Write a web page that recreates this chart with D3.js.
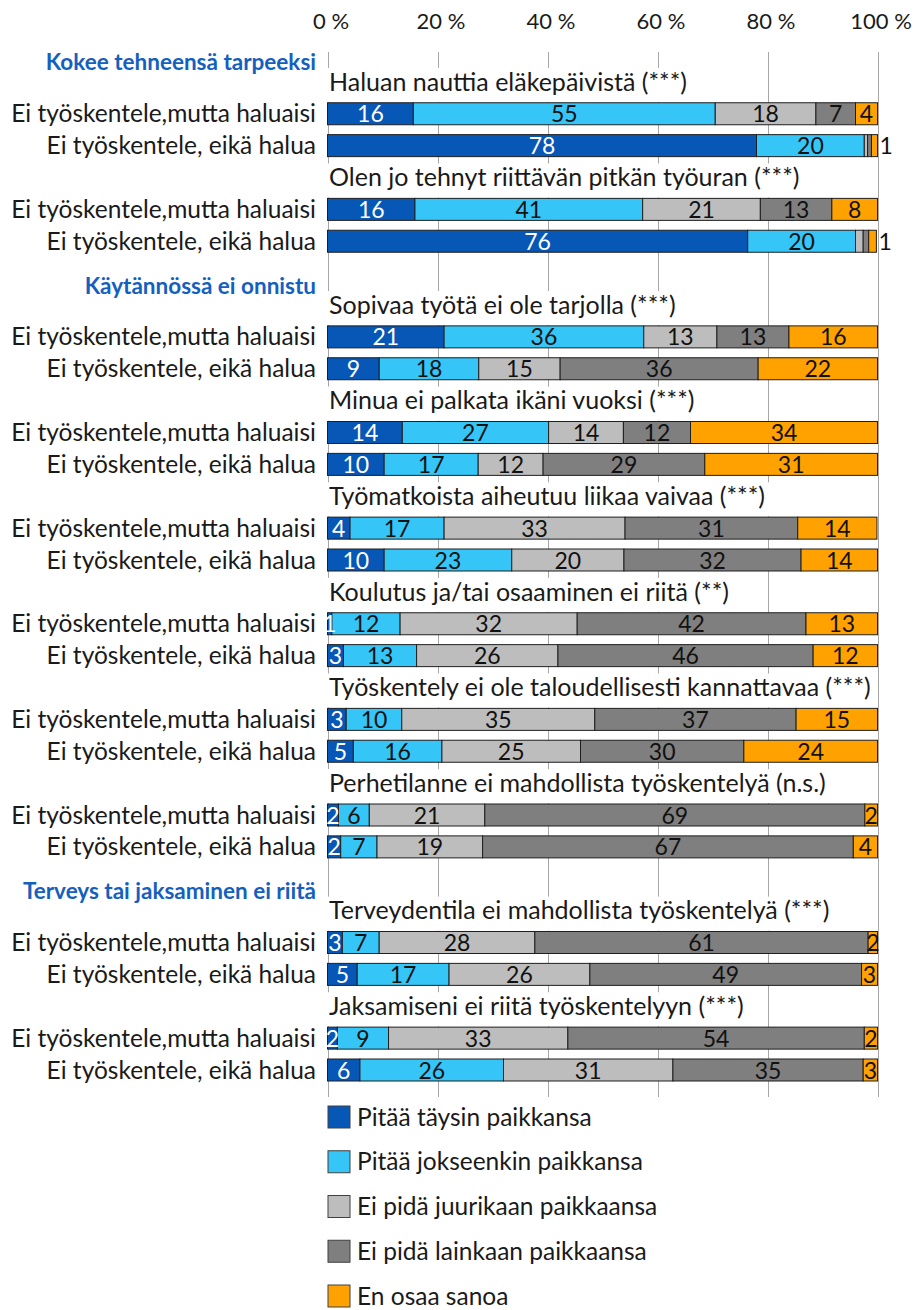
<!DOCTYPE html>
<html>
<head>
<meta charset="utf-8">
<script src="https://cdn.jsdelivr.net/npm/d3@7"></script>
<style>
  body { margin: 0; background: #ffffff; }
  text { font-family: Lato, "Open Sans", sans-serif; }
</style>
</head>
<body>
<script>
// ---------------- DATA ----------------
const sectionTitles = ["Kokee tehneensä tarpeeksi", "Käytännössä ei onnistu", "Terveys tai jaksaminen ei riitä"];
const groupTitles = [
  "Haluan nauttia eläkepäivistä (***)",
  "Olen jo tehnyt riittävän pitkän työuran (***)",
  "Sopivaa työtä ei ole tarjolla (***)",
  "Minua ei palkata ikäni vuoksi (***)",
  "Työmatkoista aiheutuu liikaa vaivaa (***)",
  "Koulutus ja/tai osaaminen ei riitä (**)",
  "Työskentely ei ole taloudellisesti kannattavaa (***)",
  "Perhetilanne ei mahdollista työskentelyä (n.s.)",
  "Terveydentila ei mahdollista työskentelyä (***)",
  "Jaksamiseni ei riitä työskentelyyn (***)"
];
const groupSection = [0, 0, 1, 1, 1, 1, 1, 1, 2, 2];
const rowLabels = ["Ei työskentele,mutta haluaisi", "Ei työskentele, eikä halua"];
const seriesNames = ["Pitää täysin paikkansa", "Pitää jokseenkin paikkansa", "Ei pidä juurikaan paikkaansa", "Ei pidä lainkaan paikkaansa", "En osaa sanoa"];
const tickValues = [0, 20, 40, 60, 80, 100];

// values per series, rows in order: group1 row1, group1 row2, group2 row1, ...
const taysin     = [15.6, 78.0, 15.9, 76.4, 21.2,  9.4, 13.6, 10.3,  4.1, 10.3,  0.8,  2.9,  3.4,  4.7,  2.0,  2.4,  2.7,  5.4,  1.8,  5.9];
const jokseenkin = [54.9, 19.6, 41.4, 19.6, 36.3, 18.1, 26.6, 17.1, 17.1, 23.2, 12.4, 13.3, 10.1, 16.1,  5.6,  6.6,  6.7, 16.7,  9.3, 26.1];
const juurikaan  = [18.3,  0.6, 21.4,  1.4, 13.3, 14.8, 13.6, 11.8, 32.9, 20.4, 32.2, 25.7, 35.1, 25.2, 21.0, 19.2, 28.3, 25.6, 32.6, 30.8];
const lainkaan   = [ 7.2,  0.7, 13.0,  1.0, 13.1, 36.0, 12.2, 29.4, 31.4, 32.2, 41.6, 46.4, 36.6, 29.7, 69.1, 67.4, 60.6, 49.4, 53.9, 34.6];
const eos        = [ 4.0,  1.1,  8.3,  1.4, 16.1, 21.7, 34.0, 31.4, 14.4, 13.9, 13.0, 11.7, 14.8, 24.3,  2.3,  4.4,  1.7,  2.9,  2.4,  2.6];
// data labels that are not shown in the original (row index, series index)
const hiddenLabels = [[1, 2], [1, 3], [3, 2], [3, 3]];

const seriesValues = [taysin, jokseenkin, juurikaan, lainkaan, eos];
const colors = ["#0757B7", "#35C5F6", "#BDBDBD", "#7F7F7F", "#FFA200"];
const labelColors = ["#ffffff", "#111111", "#111111", "#111111", "#111111"];

// ---------------- LAYOUT ----------------
const W = 920, H = 1310;
const svg = d3.select("body").append("svg").attr("width", W).attr("height", H);

// build slot list
const slots = [];
let prevSection = -1;
groupTitles.forEach((t, g) => {
  if (groupSection[g] !== prevSection) {
    slots.push({type: "section", text: sectionTitles[groupSection[g]]});
    prevSection = groupSection[g];
  }
  slots.push({type: "title", text: t});
  rowLabels.forEach((rl, r) => slots.push({type: "bar", text: rl, row: g * 2 + r}));
});

const x = d3.scaleLinear().domain([0, 100]).range([327.5, 877.5]);
const y = d3.scalePoint().domain(d3.range(slots.length)).range([50, 1070]);
const barH = 22;
const gridTop = 52, gridBottom = 1097;

// gridlines
svg.append("g").selectAll("line").data(tickValues).join("line")
  .attr("x1", d => Math.round(x(d)) + 0.5).attr("x2", d => Math.round(x(d)) + 0.5)
  .attr("y1", gridTop).attr("y2", gridBottom)
  .attr("stroke", "#A6A6A6").attr("stroke-width", 1);

// top axis labels
const axis = d3.axisTop(x).tickValues(tickValues).tickFormat(d => d + " %").tickSize(0).tickPadding(0);
const axG = svg.append("g").attr("transform", "translate(3,29)").call(axis);
axG.select(".domain").remove();
axG.selectAll("text").attr("font-family", "Lato, sans-serif").attr("font-size", 22).attr("fill", "#1a1a1a");

// section labels
slots.forEach((s, i) => {
  if (s.type === "section") {
    svg.append("text").attr("x", 316).attr("y", y(i) + 12.5)
      .attr("dy", "0.35em").attr("text-anchor", "end")
      .attr("font-size", 22.5).attr("font-weight", 700).attr("fill", "#1460BE")
      .text(s.text);
  }
});

// group titles with white background
slots.forEach((s, i) => {
  if (s.type === "title") {
    const g = svg.append("g");
    const bg = g.append("rect").attr("fill", "#ffffff");
    const t = g.append("text").attr("x", 329).attr("y", y(i))
      .attr("dy", "0.35em").attr("font-size", 25).attr("fill", "#1a1a1a").text(s.text);
    const len = t.node().getComputedTextLength();
    bg.attr("x", 326).attr("y", y(i) - 14).attr("width", len + 8).attr("height", 34);
  }
});

// row labels
slots.forEach((s, i) => {
  if (s.type === "bar") {
    svg.append("text").attr("x", 316).attr("y", y(i))
      .attr("dy", "0.35em").attr("text-anchor", "end")
      .attr("font-size", 24.5).attr("fill", "#1a1a1a").text(s.text);
  }
});

// stacked bars
const barSlots = slots.map((s, i) => ({...s, slot: i})).filter(s => s.type === "bar");
const rows = barSlots.map(s => {
  const obj = {slot: s.slot, row: s.row};
  seriesNames.forEach((n, k) => obj[n] = seriesValues[k][s.row]);
  return obj;
});
const stack = d3.stack().keys(seriesNames)(rows);
const fmt = d3.format(".0f");
const isHidden = (r, k) => hiddenLabels.some(h => h[0] === r && h[1] === k);
const last = seriesNames.length - 1;
const outside = (d, k) => k === last && d[1] - d[0] < 1.5;

stack.forEach((layer, k) => {
  const lg = svg.append("g");
  lg.selectAll("rect").data(layer).join("rect")
    .attr("x", d => x(d[0])).attr("width", d => x(d[1]) - x(d[0]))
    .attr("y", d => y(d.data.slot) - barH / 2).attr("height", barH)
    .attr("fill", colors[k]).attr("stroke", "#1f1f1f").attr("stroke-width", 1);
});
stack.forEach((layer, k) => {
  const lg = svg.append("g");
  lg.selectAll("text").data(layer.filter(d => !isHidden(d.data.row, k))).join("text")
    .attr("x", d => outside(d, k) ? x(d[1]) + 2 : (x(d[0]) + x(d[1])) / 2)
    .attr("text-anchor", d => outside(d, k) ? "start" : "middle")
    .attr("y", d => y(d.data.slot)).attr("dy", "0.37em")
    .attr("font-size", 23)
    .attr("fill", d => outside(d, k) ? "#111111" : labelColors[k])
    .text(d => fmt(d[1] - d[0]));
});

// legend
const legY = d3.scalePoint().domain(seriesNames).range([1117, 1296]);
const leg = svg.append("g");
seriesNames.forEach((n, k) => {
  leg.append("rect").attr("x", 328).attr("y", legY(n) - 11).attr("width", 22).attr("height", 22)
    .attr("fill", colors[k]).attr("stroke", "#404040").attr("stroke-width", 1);
  leg.append("text").attr("x", 357).attr("y", legY(n)).attr("dy", "0.35em")
    .attr("font-size", 24.5).attr("fill", "#1a1a1a").text(n);
});
</script>
</body>
</html>
